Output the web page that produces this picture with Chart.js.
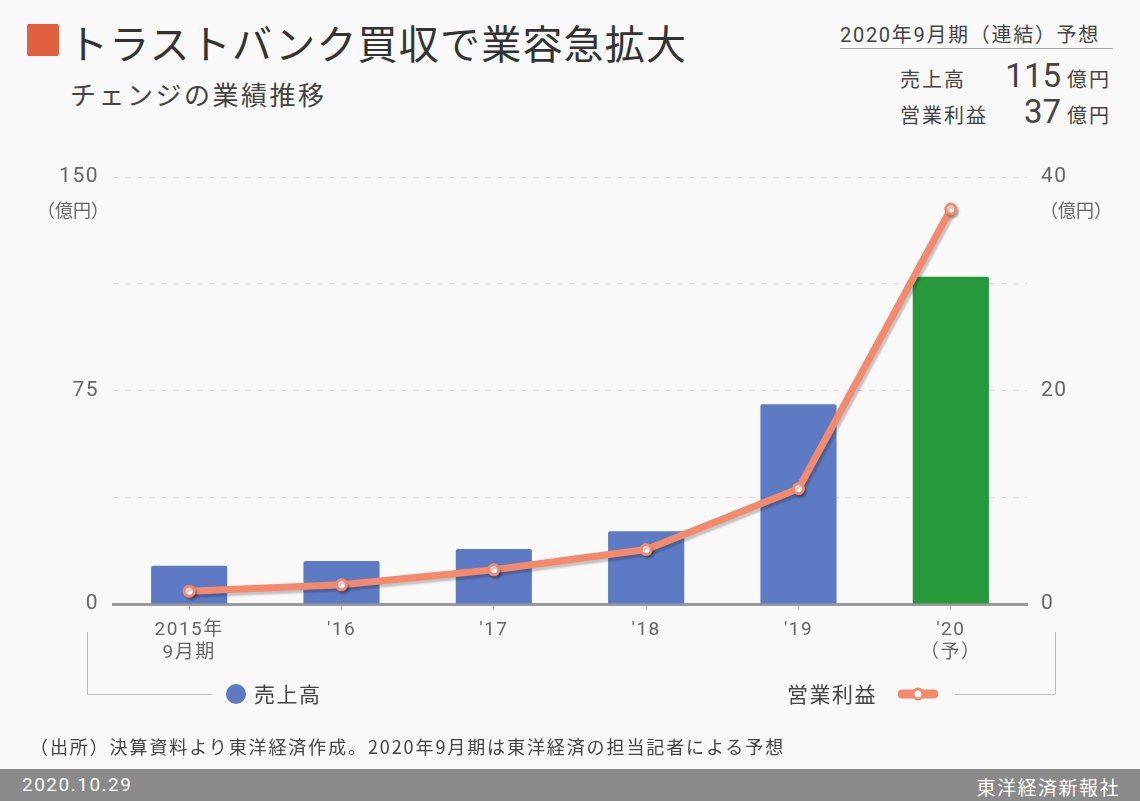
<!DOCTYPE html>
<html>
<head>
<meta charset="utf-8">
<script src="https://cdn.jsdelivr.net/npm/chart.js@4.4.0/dist/chart.umd.min.js"></script>
<style>
  html, body { margin: 0; padding: 0; }
  body { width: 1140px; height: 801px; background: #f9f9f9; position: relative; overflow: hidden;
         font-family: Roboto, "Noto Sans CJK JP", sans-serif; color: #444; }
  .abs { position: absolute; white-space: nowrap; }
  #wrap { position: absolute; left: 0; top: 0; width: 1140px; height: 801px; }
  .sq { left: 27px; top: 24px; width: 32px; height: 32px; background: #e0603f; border-radius: 2px; }
  .title { left: 68px; top: 13px; font-size: 40px; letter-spacing: 1.2px; color: #333; font-family: "Noto Sans CJK JP", sans-serif; }
  .sub { left: 70px; top: 75px; font-size: 26px; letter-spacing: 2.5px; color: #444; font-family: "Noto Sans CJK JP", sans-serif; }
  .fc { left: 840px; top: 19px; font-size: 20px; letter-spacing: 1.7px; color: #444; }
  .fcline { left: 840px; top: 48px; width: 273px; height: 0; border-top: 1px solid #aaa; }
  .lbl { font-size: 20px; letter-spacing: 2px; color: #444; font-family: "Noto Sans CJK JP", sans-serif; }
  .big { font-size: 33px; color: #444; }
  .leg { font-size: 21px; letter-spacing: 1.5px; color: #444; font-family: "Noto Sans CJK JP", sans-serif; }
  .foot { left: 0; top: 769px; width: 1140px; height: 32px; background: #8a8a8a; }
  .foot span { position: absolute; top: 4px; color: #fff; font-size: 19px; letter-spacing: 1.5px; }
</style>
</head>
<body>
<div class="abs sq"></div>
<div class="abs title">トラストバンク買収で業容急拡大</div>
<div class="abs sub">チェンジの業績推移</div>
<div class="abs fc">2020年9月期（連結）予想</div>
<div class="abs fcline"></div>
<div class="abs lbl" style="left:900px;top:64px;">売上高</div>
<div class="abs big" style="right:79px;top:56px;">115</div>
<div class="abs lbl" style="left:1067px;top:64px;">億円</div>
<div class="abs lbl" style="left:900px;top:100px;">営業利益</div>
<div class="abs big" style="right:79px;top:92px;">37</div>
<div class="abs lbl" style="left:1067px;top:100px;">億円</div>

<div id="wrap"><canvas id="chart"></canvas></div>

<div class="abs" style="left:37px;top:196px;font-size:18px;color:#666;font-family:'Noto Sans CJK JP',sans-serif;">（億円）</div>
<div class="abs" style="left:1040px;top:196px;font-size:18px;color:#666;font-family:'Noto Sans CJK JP',sans-serif;">（億円）</div>

<!-- legend bracket -->
<div class="abs" style="left:87px;top:632px;width:0;height:62px;border-left:1px solid #bbb;"></div>
<div class="abs" style="left:87px;top:694px;width:125px;height:0;border-top:1px solid #bbb;"></div>
<div class="abs" style="left:1055px;top:632px;width:0;height:62px;border-left:1px solid #bbb;"></div>
<div class="abs" style="left:955px;top:694px;width:100px;height:0;border-top:1px solid #bbb;"></div>
<div class="abs" style="left:226px;top:684px;width:20px;height:20px;border-radius:50%;background:#5d7bc4;"></div>
<div class="abs leg" style="left:254px;top:678px;">売上高</div>
<div class="abs leg" style="left:787px;top:678px;">営業利益</div>
<svg class="abs" style="left:898px;top:684px;" width="40" height="20">
  <line x1="4" y1="10" x2="36" y2="10" stroke="#f4896b" stroke-width="9" stroke-linecap="round"/>
  <circle cx="20" cy="10" r="5" fill="#fff" stroke="#f4896b" stroke-width="3"/>
</svg>

<div class="abs" style="left:30px;top:733px;font-size:18px;letter-spacing:1.9px;color:#444;font-family:'Noto Sans CJK JP',sans-serif;">（出所）決算資料より東洋経済作成。2020年9月期は東洋経済の担当記者による予想</div>
<div class="abs foot"><span style="left:22px;">2020.10.29</span><span style="right:20px;font-family:'Noto Sans CJK JP',sans-serif;">東洋経済新報社</span></div>

<script>
const categories = [['2015年', '9月期'], "'16", "'17", "'18", "'19", ["'20", '（予）']];
const revenue = [13.4, 15.1, 19.3, 25.6, 70.2, 115];   // 売上高（億円）
const profit = [1.2, 1.8, 3.2, 5.1, 10.8, 37];          // 営業利益（億円）
const leftTicks = [0, 75, 150];
const rightTicks = [0, 20, 40];

const barColors = revenue.map((v, i) => i === revenue.length - 1 ? '#27983b' : '#5d7bc4');

// 目盛り文字の字間を少し空ける
const spacing = {
    id: 'spacing',
    beforeDraw(chart) { chart.ctx.letterSpacing = '1.5px'; },
    afterDraw(chart) { chart.ctx.letterSpacing = '0px'; }
};

const lineShadow = {
    id: 'lineShadow',
    beforeDatasetDraw(chart, args) {
        if (args.index !== 1) return;
        const ctx = chart.ctx;
        ctx.save();
        ctx.shadowColor = 'rgba(0,0,0,0.22)';
        ctx.shadowOffsetX = 2;
        ctx.shadowOffsetY = 3;
        ctx.shadowBlur = 2;
    },
    afterDatasetDraw(chart, args) {
        if (args.index !== 1) return;
        chart.ctx.restore();
    }
};

const config = {
    data: {
        labels: categories,
        datasets: [{
            type: 'bar',
            label: '売上高',
            data: revenue,
            backgroundColor: barColors,
            borderRadius: 2,
            borderSkipped: 'bottom',
            barPercentage: 0.5,
            categoryPercentage: 1,
            yAxisID: 'y',
            order: 1
        }, {
            type: 'line',
            label: '営業利益',
            data: profit,
            borderColor: '#f4896b',
            borderWidth: 7,
            pointRadius: 5,
            pointBorderWidth: 3,
            pointBackgroundColor: '#fff',
            pointBorderColor: '#f4896b',
            tension: 0,
            yAxisID: 'y1',
            order: 0
        }]
    },
    options: {
        responsive: true,
        maintainAspectRatio: false,
        animation: false,
        layout: { padding: { top: 177, bottom: 137, left: 0, right: 0 } },
        plugins: { legend: { display: false }, tooltip: { enabled: false } },
        scales: {
            x: {
                afterFit: s => { s.height = 60; },
                border: { display: true, color: '#9a9a9a', width: 3 },
                grid: { offset: false, drawOnChartArea: false, tickLength: 6, color: '#aaa' },
                ticks: { color: '#666', font: { family: 'Roboto, "Noto Sans CJK JP", sans-serif', size: 19 }, padding: 9, maxRotation: 0 }
            },
            y: {
                position: 'left',
                min: 0, max: 150,
                afterFit: s => { s.width = 113; },
                afterBuildTicks: s => { s.ticks = [0, 37.5, 75, 112.5, 150].map(v => ({ value: v })); },
                border: { display: false, dash: [6, 6] },
                grid: { color: '#dcdcdc', lineWidth: 1, drawTicks: false },
                ticks: {
                    color: '#666', font: { family: 'Roboto, sans-serif', size: 21 }, padding: 14,
                    callback: v => leftTicks.includes(v) ? String(v) : ''
                }
            },
            y1: {
                position: 'right',
                min: 0, max: 40,
                afterFit: s => { s.width = 113; },
                afterBuildTicks: s => { s.ticks = [0, 10, 20, 30, 40].map(v => ({ value: v })); },
                border: { display: false },
                grid: { display: false, drawTicks: false },
                ticks: {
                    color: '#666', font: { family: 'Roboto, sans-serif', size: 21 }, padding: 14,
                    callback: v => rightTicks.includes(v) ? String(v) : ''
                }
            }
        }
    },
    plugins: [spacing, lineShadow]
};

const myChart = new Chart(document.getElementById('chart'), config);
</script>
</body>
</html>
